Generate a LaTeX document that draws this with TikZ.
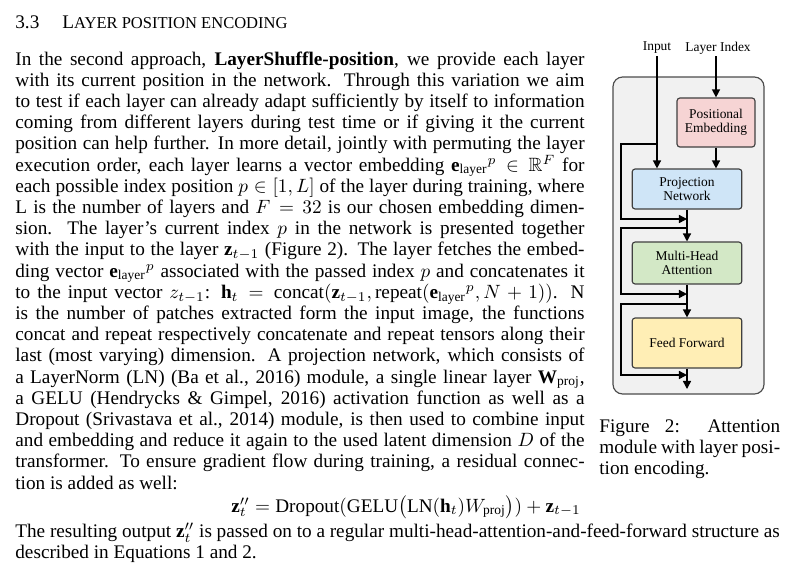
\documentclass[tikz,border=0pt]{standalone}
\usepackage{amsmath,amsfonts,amssymb}
\usepackage{fontspec}
\setmainfont{Liberation Serif}
\usetikzlibrary{arrows.meta}
\definecolor{bgcol}{HTML}{F1F1F1}
\definecolor{pecol}{HTML}{F6D4D4}
\definecolor{pncol}{HTML}{CFE5F7}
\definecolor{mhacol}{HTML}{D3E8C6}
\definecolor{ffcol}{HTML}{FFEEB5}
\newcommand{\jline}[2][296pt]{\makebox[#1][s]{#2}}
\newcommand{\elay}{{\mathbf{e}_\text{layer}}^p}

\begin{document}
\begin{tikzpicture}[x=0.52pt,y=-0.52pt,>={Triangle[length=4.2pt,width=4.2pt]},
  txt/.style={anchor=base west,inner sep=0pt,font=\fontsize{10}{11}\selectfont},
  blk/.style={draw=black!75,line width=0.6pt,rounded corners=1.5pt,align=center,
    font=\fontsize{7}{7.5}\selectfont,minimum width=57pt},
  lbl/.style={inner sep=1pt,font=\fontsize{7}{7.5}\selectfont}]
\useasboundingbox (0,0) rectangle (800,575);
\fill[white] (0,0) rectangle (800,575);
% heading
\node[txt] (num) at (15,28.5) {3.3};
\node[txt] (title) at (62,28.5) {L{\fontsize{8.6}{9}\selectfont AYER POSITION ENCODING}};
% body text, one node per line
\foreach \linetext [count=\i] in {
  {In the second approach, \textbf{LayerShuffle-position}, we provide each layer},
  {with its current position in the network. Through this variation we aim},
  {to test if each layer can already adapt sufficiently by itself to information},
  {coming from different layers during test time or if giving it the current},
  {position can help further. In more detail, jointly with permuting the layer},
  {execution order, each layer learns a vector embedding $\elay \in \mathbb{R}^F$ for},
  {each possible index position $p \in [1, L]$ of the layer during training, where},
  {L is the number of layers and $F = 32$ is our chosen embedding dimen-},
  {sion. The layer's current index $p$ in the network is presented together},
  {with the input to the layer $\mathbf{z}_{t-1}$ (Figure 2). The layer fetches the embed-},
  {ding vector $\elay$ associated with the passed index $p$ and concatenates it},
  {to the input vector $z_{t-1}$: $\mathbf{h}_t = \text{concat}(\mathbf{z}_{t-1}, \text{repeat}(\elay, N+1))$. N},
  {is the number of patches extracted form the input image, the functions},
  {concat and repeat respectively concatenate and repeat tensors along their},
  {last (most varying) dimension. A projection network, which consists of},
  {a LayerNorm (LN) (Ba et al., 2016) module, a single linear layer $\mathbf{W}_\text{proj}$,},
  {a GELU (Hendrycks \& Gimpel, 2016) activation function as well as a},
  {Dropout (Srivastava et al., 2014) module, is then used to combine input},
  {and embedding and reduce it again to the used latent dimension $D$ of the},
  {transformer. To ensure gradient flow during training, a residual connec-}}
  \node[txt] (l\i) at (15,{65+21.2*(\i-1)}) {\jline{\linetext}};
\node[txt] (l21) at (15,489) {tion is added as well:};
\node[txt,anchor=base] (eq) at (406,512)
  {$\mathbf{z}''_t = \text{Dropout}(\text{GELU}\bigl(\text{LN}(\mathbf{h}_t)W_\text{proj}\bigr)) + \mathbf{z}_{t-1}$};
\node[txt] (l22) at (15,537.5) {\jline[397.5pt]{The resulting output $\mathbf{z}''_t$ is passed on to a regular multi-head-attention-and-feed-forward structure as}};
\node[txt] (l23) at (15,558.7) {described in Equations 1 and 2.};
% caption
\node[txt] (cap1) at (599,432.5) {\jline[94pt]{Figure 2: Attention}};
\node[txt] (cap2) at (599,453.5) {\jline[94pt]{module with layer posi-}};
\node[txt] (cap3) at (599,474.5) {tion encoding.};
% figure
\draw[draw=black!70,fill=bgcol,line width=0.6pt,rounded corners=5pt] (613,77) rectangle (764,394);
\node[blk,fill=pecol,minimum width=40.5pt,minimum height=25.5pt] (pe) at (716,122.5) {Positional\\Embedding};
\node[blk,fill=pncol,minimum height=20.8pt] (pn) at (687,189) {Projection\\Network};
\node[blk,fill=mhacol,minimum height=21.8pt] (mha) at (687,263) {Multi-Head\\Attention};
\node[blk,fill=ffcol,minimum height=26pt] (ff) at (687,343) {Feed Forward};
\node[lbl] (inp) at (657,48) {Input};
\node[lbl] (lidx) at (718,48) {Layer Index};
\coordinate (out) at (687,389);
\begin{scope}[line width=0.7pt]
\draw[->] (inp.south) -- (inp.south |- pn.north);
\draw[->] (lidx.south -| pe.north) -- (pe.north);
\draw[->] (pe.south) -- (pe.south |- pn.north);
\draw[->] (pn.south) -- (mha.north);
\draw[->] (mha.south) -- (ff.north);
\draw[->] (ff.south) -- (out);
% residual connections
\draw[->] (inp |- 0,144) -- (621,144) |- (pn.south |- 0,219);
\draw[->] (pn.south |- 0,228) -- (621,228) |- (mha.south |- 0,294);
\draw[->] (mha.south |- 0,304) -- (621,304) |- (ff.south |- 0,375);
\end{scope}
\end{tikzpicture}
\end{document}
